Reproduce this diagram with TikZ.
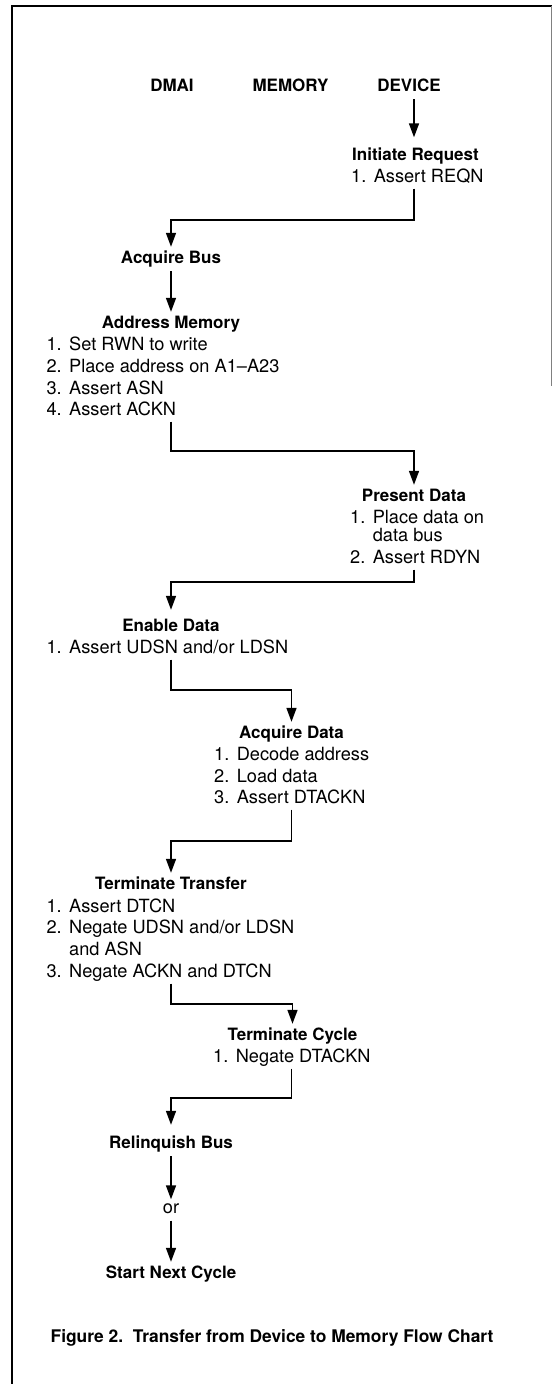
\documentclass[tikz,border=0pt]{standalone}
\usepackage{fontspec}
\setmainfont{TeX Gyre Heros}
\usetikzlibrary{arrows.meta}
\newcommand{\itm}[1]{\makebox[22.6pt][l]{#1}}
\begin{document}
\begin{tikzpicture}[x=1pt,y=-1pt,
  frame/.style={line width=2pt},
  arr/.style={line width=1.6pt,-{Triangle[length=14pt,width=10pt]}},
  head/.style={font=\fontsize{17}{21}\selectfont\bfseries, anchor=base, inner xsep=0pt, inner ysep=4.5pt, text height=12pt, text depth=3pt},
  item/.style={font=\fontsize{18.2}{21}\selectfont, anchor=base west, inner xsep=0pt, inner ysep=3pt, text height=12pt, text depth=3pt}]
\useasboundingbox (0,0) rectangle (552,1384);
% frame
\draw[frame] (11.5,1384) -- (11.5,6) -- (552,6);
\draw[gray, line width=1pt] (551,6) -- (551,386);
% column coordinates
\coordinate (cA) at (171,0);
\coordinate (cB) at (291.5,0);
\coordinate (cC) at (414,0);
% headers
\node[head] (dmai) at (172,91.5) {DMAI};
\node[head] (mem) at (290.5,91.5) {MEMORY};
\node[head] (dev) at (409,91.5) {DEVICE};
% Initiate Request
\node[head, anchor=base west] (ir) at (352,160) {Initiate Request};
\node[item] (irL1) at (351,182.5) {\itm{1.}Assert REQN};
% Acquire Bus
\node[head] (ab) at (171,263.5) {Acquire Bus};
% Address Memory
\node[head] (am) at (171,328.5) {Address Memory};
\node[item] (amL1) at (46.4,350.5) {\itm{1.}Set RWN to write};
\node[item] (amL2) at (46.4,372.5) {\itm{2.}Place address on A1--A23};
\node[item] (amL3) at (46.4,394.5) {\itm{3.}Assert ASN};
\node[item] (amL4) at (46.4,415.5) {\itm{4.}Assert ACKN};
% Present Data
\node[head] (pd) at (414,501.5) {Present Data};
\node[item] (pdL1) at (350,523.5) {\itm{1.}Place data on};
\node[item] (pdL2) at (350,541.5) {\itm{}data bus};
\node[item] (pdL3) at (350,563.5) {\itm{2.}Assert RDYN};
% Enable Data
\node[head] (ed) at (171,631) {Enable Data};
\node[item] (edL1) at (46.4,653.5) {\itm{1.}Assert UDSN and/or LDSN};
% Acquire Data
\node[head] (ad) at (291.5,738.5) {Acquire Data};
\node[item] (adL1) at (214,760.5) {\itm{1.}Decode address};
\node[item] (adL2) at (214,782.5) {\itm{2.}Load data};
\node[item] (adL3) at (214,803.5) {\itm{3.}Assert DTACKN};
% Terminate Transfer
\node[head] (tt) at (171,889.5) {Terminate Transfer};
\node[item] (ttL1) at (46.4,912.5) {\itm{1.}Assert DTCN};
\node[item] (ttL2) at (46.4,933.5) {\itm{2.}Negate UDSN and/or LDSN};
\node[item] (ttL3) at (46.4,955.5) {\itm{}and ASN};
\node[item] (ttL4) at (46.4,977.5) {\itm{3.}Negate ACKN and DTCN};
% Terminate Cycle
\node[head] (tc) at (292.5,1040.5) {Terminate Cycle};
\node[item] (tcL1) at (213,1062.5) {\itm{1.}Negate DTACKN};
% Relinquish Bus
\node[head] (rb) at (171,1148.5) {Relinquish Bus};
\node[item, anchor=base, inner ysep=4.5pt, text height=9pt] (or) at (171,1213) {or};
\node[head] (sn) at (171,1278.5) {Start Next Cycle};
% caption
\node[head, font=\fontsize{17.4}{21}\selectfont\bfseries] (cap) at (272,1342) {Figure 2.\ \ Transfer from Device to Memory Flow Chart};
% connectors
\draw[arr, shorten >=6pt] (dev.south -| cC) -- (cC |- ir.north);
\draw[arr] (irL1.south -| cC) -- ++(0,31.5) -| (ab.north);
\draw[arr] (ab) -- (am);
\draw[arr] (amL4.south -| cA) -- ++(0,29.5) -| (pd.north);
\draw[arr, shorten >=4.5pt] (pdL3.south -| cC) -- ++(0,12.5) -| (ed.north);
\draw[arr] (edL1.south -| cA) -- ++(0,30.5) -| (ad.north);
\draw[arr] (adL3.south -| cB) -- ++(0,31.5) -| (tt.north);
\draw[arr] (ttL4.south -| cA) -- ++(0,20.5) -| (tc.north);
\draw[arr, shorten >=7pt] (tcL1.south -| cB) -- ++(0,29.5) -| (rb.north);
\draw[arr] (rb) -- (or);
\draw[arr] (or) -- (sn);
\end{tikzpicture}
\end{document}
